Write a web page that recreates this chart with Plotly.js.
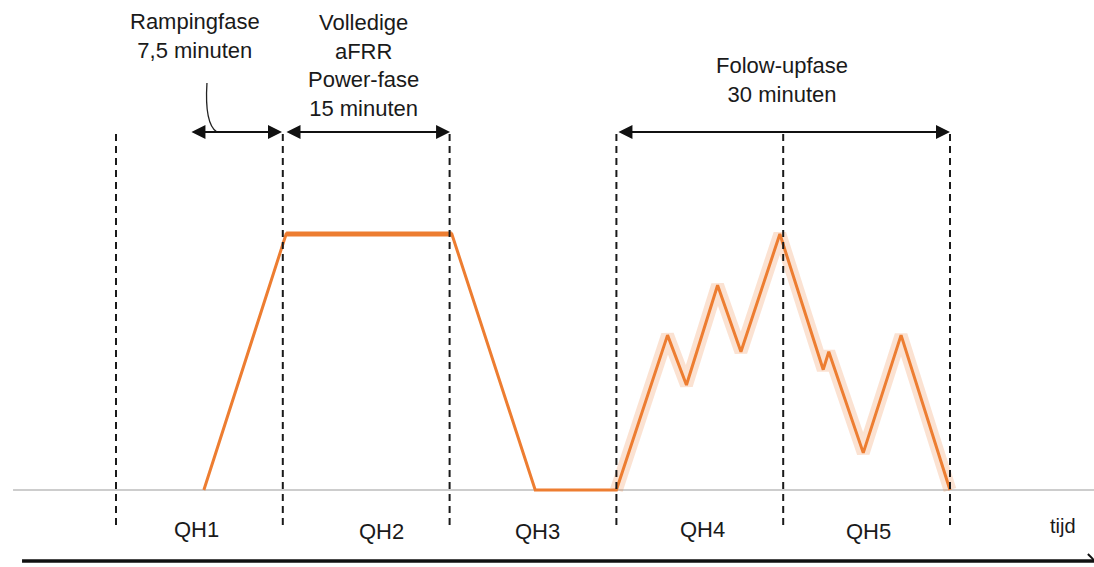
<!DOCTYPE html>
<html>
<head>
<meta charset="utf-8">
<script src="https://cdn.plot.ly/plotly-3.0.1.min.js"></script>
<style>html,body{margin:0;padding:0;background:#fff;}#chart{width:1094px;height:567px;}</style>
</head>
<body>
<div id="chart"></div>
<script>
// time in minutes (QH boundaries at 0,15,30,45,60,75), power as fraction of full aFRR power
const tMin  = [7.9, 15.3, 30.2, 37.7, 45.0, 49.6, 51.3, 54.1, 56.2, 59.7, 63.6, 64.1, 67.2, 70.6, 75.0];
const power = [0,   1.0,  1.0,  0,    0,    0.605, 0.41, 0.80, 0.54, 1.0, 0.47, 0.54, 0.145, 0.605, 0];
const qhBounds = [0, 15, 30, 45, 60, 75];
const qhLabels = ['QH1', 'QH2', 'QH3', 'QH4', 'QH5'];
const qhLabelT = [7.2, 23.9, 37.9, 52.7, 67.7];
const axisLabel = 'tijd';
const phaseTexts = ['Rampingfase<br>7,5 minuten', 'Volledige<br>aFRR<br>Power-fase<br>15 minuten', 'Folow-upfase<br>30 minuten'];
const phaseStart = [6.65, 15.2, 45.05];
const phaseEnd   = [14.93, 30.04, 75.0];

const orange = '#ED7D31';
const font = {family: 'Liberation Sans, Arial, sans-serif', size: 22, color: '#1a1a1a'};

const xr = [-116/11.12, (1094-116)/11.12];
const yr = [-(567-490)/256, 490/256];

const traces = [
  { // halo around follow-up part
    x: tMin.slice(4), y: power.slice(4), mode: 'lines', hoverinfo: 'skip',
    line: {color: 'rgba(237,125,49,0.22)', width: 13}
  },
  {
    x: tMin, y: power, mode: 'lines', hoverinfo: 'skip',
    line: {color: orange, width: 3}
  },
  { // plateau drawn thicker
    x: tMin.slice(1, 3), y: power.slice(1, 3), mode: 'lines', hoverinfo: 'skip',
    line: {color: orange, width: 5}
  }
];

const shapes = [];
// gray baseline
shapes.push({type: 'line', xref: 'x', yref: 'y', x0: -9.26, x1: xr[1], y0: 0, y1: 0,
  line: {color: '#bdbdbd', width: 1.5}, layer: 'below'});
// dashed QH boundaries
qhBounds.forEach(function(t, i) {
  shapes.push({type: 'line', xref: 'x', yref: 'y', x0: t, x1: t, y0: -0.137, y1: (i === 1 || i === 2) ? 1.41 : 1.40,
    line: {color: '#1a1a1a', width: 2, dash: '7px,5px'}});
});
// bottom time axis
shapes.push({type: 'line', xref: 'x', yref: 'y', x0: -8.45, x1: xr[1], y0: -0.277, y1: -0.277,
  line: {color: '#111', width: 3.5}});
shapes.push({type: 'line', xref: 'x', yref: 'y', x0: 87.4, x1: xr[1], y0: -0.25, y1: -0.274,
  line: {color: '#111', width: 2}});
// curved leader for Rampingfase
shapes.push({type: 'path', xref: 'x', yref: 'y', path: 'M 8.18,1.59 Q 7.95,1.43 9.08,1.398',
  line: {color: '#222', width: 1.3}});

const annotations = [];
// phase double arrows
phaseStart.forEach(function(s, i) {
  annotations.push({x: phaseEnd[i], y: 1.398, ax: s, ay: 1.398, axref: 'x', ayref: 'y', xref: 'x', yref: 'y',
    text: '', showarrow: true, arrowhead: 2, startarrowhead: 2, arrowside: 'end+start',
    arrowsize: 1.4, startarrowsize: 1.4, arrowwidth: 2, arrowcolor: '#111'});
});
// phase texts
const phaseTextPos = [[7.1, 1.773], [22.3, 1.66], [59.9, 1.60]];
phaseTexts.forEach(function(txt, i) {
  annotations.push({x: phaseTextPos[i][0], y: phaseTextPos[i][1], xref: 'x', yref: 'y', text: txt,
    showarrow: false, font: font, align: 'center', xanchor: 'center', yanchor: 'middle'});
});
// QH labels
const qhY = [-0.153, -0.164, -0.164, -0.156, -0.164];
qhLabels.forEach(function(l, i) {
  annotations.push({x: qhLabelT[i], y: qhY[i], xref: 'x', yref: 'y', text: l, showarrow: false,
    font: {family: font.family, size: 22, color: '#1a1a1a'}, xanchor: 'center', yanchor: 'middle'});
});
annotations.push({x: 85.2, y: -0.14, xref: 'x', yref: 'y', text: axisLabel, showarrow: false,
  font: {family: font.family, size: 20, color: '#1a1a1a'}, xanchor: 'center', yanchor: 'middle'});

const layout = {
  width: 1094, height: 567,
  margin: {l: 0, r: 0, t: 0, b: 0},
  paper_bgcolor: '#fff', plot_bgcolor: '#fff',
  showlegend: false,
  xaxis: {range: xr, visible: false, fixedrange: true},
  yaxis: {range: yr, visible: false, fixedrange: true},
  shapes: shapes,
  annotations: annotations
};

Plotly.newPlot('chart', traces, layout, {staticPlot: true, displayModeBar: false});
</script>
</body>
</html>
